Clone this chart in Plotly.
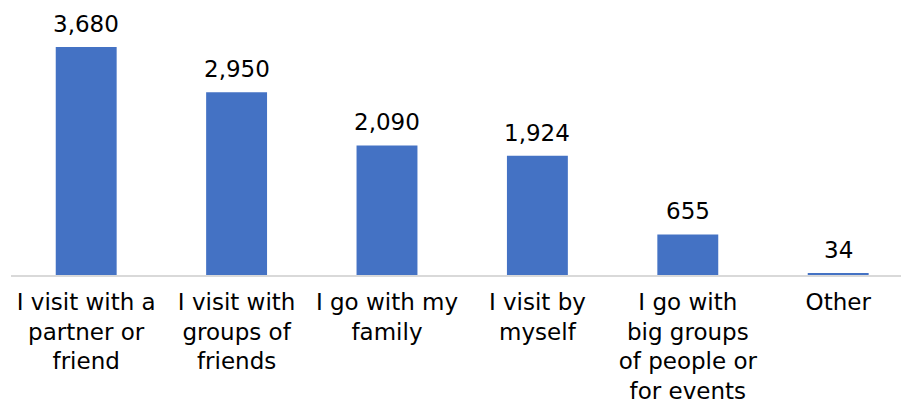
import plotly.graph_objects as go

# How respondents visit
categories = [
    "I visit with a<br>partner or<br>friend",
    "I visit with<br>groups of<br>friends",
    "I go with my<br>family",
    "I visit by<br>myself",
    "I go with<br>big groups<br>of people or<br>for events",
    "Other",
]
counts = [3680, 2950, 2090, 1924, 655, 34]

BAR_COLOR = "#4472C4"
FONT = "DejaVu Sans"

x_pos = list(range(len(categories)))

fig = go.Figure(
    go.Bar(
        x=x_pos,
        y=counts,
        width=0.405,
        marker=dict(color=BAR_COLOR, line=dict(width=0)),
        hoverinfo="skip",
    )
)

# value labels above each bar
for xi, v in zip(x_pos, counts):
    fig.add_annotation(
        x=xi, y=v, text=f"{v:,}",
        showarrow=False, yanchor="bottom", yshift=8,
        font=dict(family=FONT, size=23, color="#000000"),
    )

fig.update_layout(
    width=901, height=403,
    margin=dict(l=11, r=0, t=20, b=128),
    paper_bgcolor="white", plot_bgcolor="white",
    showlegend=False,
    font=dict(family=FONT, size=23, color="#000000"),
    xaxis=dict(
        range=[-0.5, 5.4176],
        tickmode="array", tickvals=x_pos, ticktext=categories,
        showline=True, linecolor="#d9d9d9", linewidth=2,
        showgrid=False, zeroline=False, ticks="",
        tickangle=0, ticklabelstandoff=5,
        tickfont=dict(family=FONT, size=23, color="#000000"),
        fixedrange=True,
    ),
    yaxis=dict(
        range=[0, 4115],
        visible=False, showgrid=False, zeroline=False,
        fixedrange=True,
    ),
)

fig.write_html("out.html")
